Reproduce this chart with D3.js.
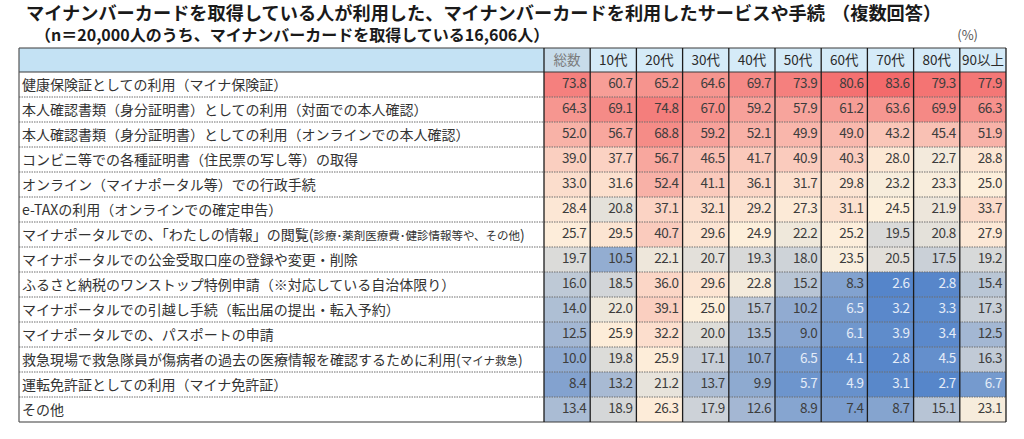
<!DOCTYPE html>
<html lang="ja">
<head>
<meta charset="utf-8">
<script src="https://cdn.jsdelivr.net/npm/d3@7"></script>
<style>
  html, body { margin: 0; padding: 0; background: #fff; }
  svg { display: block; }
  text { font-family: "Noto Sans CJK JP", "Noto Sans", sans-serif; }
</style>
</head>
<body>
<div id="chart"></div>
<script>
const categories = [
    "健康保険証としての利用（マイナ保険証）",
    "本人確認書類（身分証明書）としての利用（対面での本人確認）",
    "本人確認書類（身分証明書）としての利用（オンラインでの本人確認）",
    "コンビニ等での各種証明書（住民票の写し等）の取得",
    "オンライン（マイナポータル等）での行政手続",
    "e-TAXの利用（オンラインでの確定申告）",
    "マイナポータルでの、「わたしの情報」の閲覧(診療･薬剤医療費･健診情報等や、その他)",
    "マイナポータルでの公金受取口座の登録や変更・削除",
    "ふるさと納税のワンストップ特例申請（※対応している自治体限り）",
    "マイナポータルでの引越し手続（転出届の提出・転入予約）",
    "マイナポータルでの、パスポートの申請",
    "救急現場で救急隊員が傷病者の過去の医療情報を確認するために利用(マイナ救急)",
    "運転免許証としての利用（マイナ免許証）",
    "その他"
];
const ageGroups = ["総数", "10代", "20代", "30代", "40代", "50代", "60代", "70代", "80代", "90以上"];

const total = [73.8, 64.3, 52.0, 39.0, 33.0, 28.4, 25.7, 19.7, 16.0, 14.0, 12.5, 10.0, 8.4, 13.4];
const age10 = [60.7, 69.1, 56.7, 37.7, 31.6, 20.8, 29.5, 10.5, 18.5, 22.0, 25.9, 19.8, 13.2, 18.9];
const age20 = [65.2, 74.8, 68.8, 56.7, 52.4, 37.1, 40.7, 22.1, 36.0, 39.1, 32.2, 25.9, 21.2, 26.3];
const age30 = [64.6, 67.0, 59.2, 46.5, 41.1, 32.1, 29.6, 20.7, 29.6, 25.0, 20.0, 17.1, 13.7, 17.9];
const age40 = [69.7, 59.2, 52.1, 41.7, 36.1, 29.2, 24.9, 19.3, 22.8, 15.7, 13.5, 10.7, 9.9, 12.6];
const age50 = [73.9, 57.9, 49.9, 40.9, 31.7, 27.3, 22.2, 18.0, 15.2, 10.2, 9.0, 6.5, 5.7, 8.9];
const age60 = [80.6, 61.2, 49.0, 40.3, 29.8, 31.1, 25.2, 23.5, 8.3, 6.5, 6.1, 4.1, 4.9, 7.4];
const age70 = [83.6, 63.6, 43.2, 28.0, 23.2, 24.5, 19.5, 20.5, 2.6, 3.2, 3.9, 2.8, 3.1, 8.7];
const age80 = [79.3, 69.9, 45.4, 22.7, 23.3, 21.9, 20.8, 17.5, 2.8, 3.3, 3.4, 4.5, 2.7, 15.1];
const age90 = [77.9, 66.3, 51.9, 28.8, 25.0, 33.7, 27.9, 19.2, 15.4, 17.3, 12.5, 16.3, 6.7, 23.1];

const titleMain = "マイナンバーカードを取得している人が利用した、マイナンバーカードを利用したサービスや手続";
const titleNote = "（複数回答）";
const subtitle = "（n＝20,000人のうち、マイナンバーカードを取得している16,606人）";
const unitLabel = "(%)";

class UsageTable {
    constructor() {
        this.width = 1024;
        this.height = 439;

        this.series = [total, age10, age20, age30, age40, age50, age60, age70, age80, age90];

        // table frame
        this.left = 19;
        this.labelRight = 544;
        this.right = 1006;
        this.headTop = 48;
        this.headBottom = 72;
        this.bottom = 422;

        this.svg = d3.select('#chart').append('svg')
                    .attr('width', this.width)
                    .attr('height', this.height);

        this.x = d3.scaleBand()
                    .domain(ageGroups)
                    .range([this.labelRight, this.right]);
        this.y = d3.scaleBand()
                    .domain(categories)
                    .range([this.headBottom, this.bottom]);

        // excel style 3-colour scale: min blue, median cream, max red
        const all = this.series.flat();
        this.color = d3.scaleLinear()
                    .domain([d3.min(all), d3.median(all), d3.max(all)])
                    .range(['#5585ca', '#fdf1dd', '#f36a6b']);

        this.cells = categories.flatMap((cat, i) =>
            ageGroups.map((g, j) => ({ cat: cat, group: g, value: this.series[j][i] })));
    }

    draw() {
        this.drawTitle();
        this.drawHeader();
        this.drawCells();
        this.drawLabels();
        this.drawGrid();
    }

    drawTitle() {
        const t = this.svg.append('text')
            .attr('x', 26)
            .attr('y', 20)
            .attr('font-size', 18.2)
            .attr('font-weight', 700)
            .attr('fill', '#1a1a1a');
        t.append('tspan').text(titleMain);
        t.append('tspan').attr('x', 832).text(titleNote);

        this.svg.append('text')
            .attr('x', 35)
            .attr('y', 41)
            .attr('font-size', 16)
            .attr('font-weight', 700)
            .attr('fill', '#1a1a1a')
            .text(subtitle);

        this.svg.append('text')
            .attr('x', 978)
            .attr('y', 40)
            .attr('text-anchor', 'end')
            .attr('font-size', 13)
            .attr('fill', '#555')
            .text(unitLabel);
    }

    drawHeader() {
        const g = this.svg.append('g').attr('class', 'header');
        const h = this.headBottom - this.headTop;

        g.append('rect')
            .attr('x', this.left)
            .attr('y', this.headTop)
            .attr('width', this.labelRight - this.left)
            .attr('height', h)
            .attr('fill', '#c4e2f4');

        g.selectAll('rect.col')
            .data(ageGroups)
            .join('rect')
            .attr('class', 'col')
            .attr('x', d => this.x(d))
            .attr('y', this.headTop)
            .attr('width', this.x.bandwidth())
            .attr('height', h)
            .attr('fill', (d, i) => i === 0 ? '#c8dcea' : '#d5ebf8');

        g.selectAll('text')
            .data(ageGroups)
            .join('text')
            .attr('x', d => this.x(d) + this.x.bandwidth() / 2)
            .attr('y', this.headTop + 17)
            .attr('text-anchor', 'middle')
            .attr('font-size', 13.5)
            .attr('fill', (d, i) => i === 0 ? '#7a7a7a' : '#2a2a2a')
            .text(d => d);
    }

    drawCells() {
        const g = this.svg.append('g').attr('class', 'cells');
        const bw = this.x.bandwidth();

        g.selectAll('rect')
            .data(this.cells)
            .join('rect')
            .attr('x', d => this.x(d.group))
            .attr('y', d => this.y(d.cat))
            .attr('width', bw)
            .attr('height', this.y.bandwidth())
            .attr('fill', d => this.color(d.value));

        g.selectAll('text')
            .data(this.cells)
            .join('text')
            .attr('x', d => this.x(d.group) + bw - 4)
            .attr('y', d => this.y(d.cat) + 16)
            .attr('text-anchor', 'end')
            .attr('font-family', 'Roboto, "Noto Sans", sans-serif')
            .attr('font-size', 13.5)
            .attr('letter-spacing', -0.5)
            .attr('fill', d => d.value < 7 ? '#e4ecf8' : '#3d3d3d')
            .text(d => d.value.toFixed(1));
    }

    drawLabels() {
        const g = this.svg.append('g').attr('class', 'labels');

        g.selectAll('text')
            .data(categories)
            .join('text')
            .attr('x', this.left + 3)
            .attr('y', d => this.y(d) + 17.5)
            .attr('font-size', 14)
            .attr('fill', '#333')
            .each(function(d) {
                // half-width (...) parts are printed small in the original
                const m = d.match(/^(.*?)\((.*)\)$/);
                const t = d3.select(this);
                if (!m) { t.text(d); return; }
                t.append('tspan').text(m[1] + '(');
                t.append('tspan').attr('font-size', 11.5).text(m[2]);
                t.append('tspan').text(')');
            });
    }

    drawGrid() {
        const g = this.svg.append('g').attr('class', 'grid');
        const edges = ageGroups.map(d => this.x(d)).concat([this.right]);

        // dotted row separators
        g.selectAll('line.row')
            .data(categories.slice(1))
            .join('line')
            .attr('class', 'row')
            .attr('x1', this.left).attr('x2', this.right)
            .attr('y1', d => this.y(d)).attr('y2', d => this.y(d))
            .attr('stroke', '#6e6e6e')
            .attr('stroke-width', 1)
            .attr('stroke-dasharray', '1.5,1');

        // solid horizontals
        g.selectAll('line.h')
            .data([this.headTop, this.headBottom, this.bottom])
            .join('line')
            .attr('class', 'h')
            .attr('x1', this.left).attr('x2', this.right)
            .attr('y1', d => d).attr('y2', d => d)
            .attr('stroke', '#3a3a3a')
            .attr('stroke-width', 1.2);

        // column borders
        g.selectAll('line.v')
            .data(edges)
            .join('line')
            .attr('class', 'v')
            .attr('x1', d => d).attr('x2', d => d)
            .attr('y1', this.headTop).attr('y2', this.bottom)
            .attr('stroke', '#1c1c1c')
            .attr('stroke-width', 1.3);

        g.append('line')
            .attr('x1', this.left).attr('x2', this.left)
            .attr('y1', this.headTop).attr('y2', this.bottom)
            .attr('stroke', '#555')
            .attr('stroke-width', 1.2);
    }
}

const table = new UsageTable();
table.draw();
</script>
</body>
</html>
